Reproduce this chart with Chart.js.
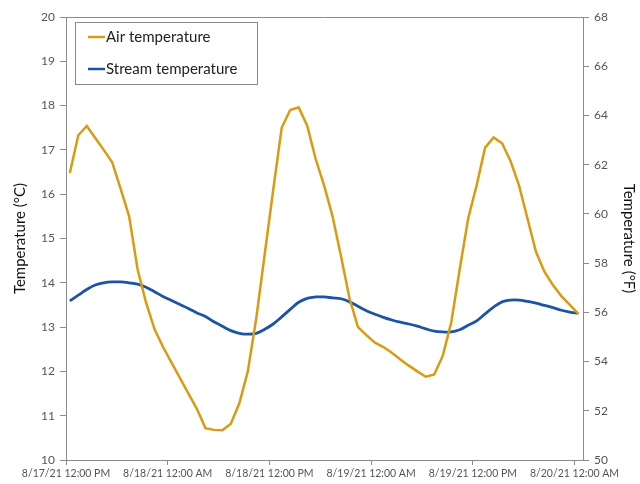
<!DOCTYPE html>
<html>
<head>
<meta charset="utf-8">
<script src="https://cdn.jsdelivr.net/npm/chart.js@4/dist/chart.umd.min.js"></script>
<style>
  html, body { margin: 0; padding: 0; background: #fff; }
  #wrap { width: 640px; height: 484px; }
</style>
</head>
<body>
<div id="wrap"><canvas id="myChart"></canvas></div>
<script>
// hours after 8/17/21 12:00 PM, one reading per hour
var firstReading = 0.45;

var airTemp = [16.48, 17.33, 17.54, 17.27, 17.0, 16.72, 16.12, 15.5, 14.3, 13.55,
  12.95, 12.55, 12.2, 11.85, 11.5, 11.15, 10.72, 10.68, 10.67, 10.82,
  11.28, 12.0, 13.2, 14.65, 16.1, 17.5, 17.9, 17.96, 17.55, 16.8,
  16.2, 15.5, 14.6, 13.65, 13.0, 12.82, 12.65, 12.55, 12.42, 12.27,
  12.13, 12.0, 11.88, 11.93, 12.35, 13.1, 14.3, 15.45, 16.2, 17.05,
  17.28, 17.15, 16.75, 16.2, 15.45, 14.7, 14.25, 13.95, 13.7, 13.5, 13.3];

var streamTemp = [13.59, 13.72, 13.85, 13.95, 14.0, 14.02, 14.02, 14.0, 13.97, 13.9,
  13.8, 13.69, 13.6, 13.51, 13.42, 13.32, 13.24, 13.12, 13.02, 12.92,
  12.86, 12.84, 12.86, 12.95, 13.07, 13.23, 13.4, 13.56, 13.65, 13.68,
  13.68, 13.66, 13.64, 13.57, 13.47, 13.37, 13.29, 13.22, 13.16, 13.11,
  13.07, 13.02, 12.96, 12.91, 12.89, 12.89, 12.94, 13.04, 13.14, 13.3,
  13.45, 13.57, 13.61, 13.61, 13.58, 13.54, 13.49, 13.44, 13.38, 13.34, 13.31];

var tickHours = [0, 12, 24, 36, 48, 60];
var tickLabels = ["8/17/21 12:00 PM", "8/18/21 12:00 AM", "8/18/21 12:00 PM",
  "8/19/21 12:00 AM", "8/19/21 12:00 PM", "8/20/21 12:00 AM"];

var seriesNames = ["Air temperature", "Stream temperature"];
var seriesColors = ["rgb(218,155,18)", "rgb(27,84,164)"];

function toPoints(arr){
  var pts = [];
  for (let i = 0; i < arr.length; i++) {
    pts.push({x: firstReading + i, y: arr[i]});
  }
  return pts;
}

var axisGrey = "#8c8c8c";
var tickFont = {family: "Lato", size: 12};
var tickColor = "#555";

// caja alrededor del area y leyenda con borde
var boxPlugin = {
  id: "boxPlugin",
  afterDatasetsDraw: function(chart){
    var ctx = chart.ctx;
    var a = chart.chartArea;
    ctx.save();
    ctx.strokeStyle = axisGrey;
    ctx.lineWidth = 1;
    ctx.beginPath();
    ctx.moveTo(a.left, a.top + 0.5);
    ctx.lineTo(a.right, a.top + 0.5);
    ctx.stroke();

    // legend, solo las dos series
    var lx = a.left + 9, ly = a.top + 5, lw = 182, lh = 62;
    ctx.fillStyle = "#fff";
    ctx.fillRect(lx, ly, lw, lh);
    ctx.strokeStyle = "#8a8a8a";
    ctx.strokeRect(lx + 0.5, ly + 0.5, lw, lh);
    ctx.font = "15px Lato";
    ctx.textBaseline = "middle";
    for (let i = 0; i < seriesNames.length; i++) {
      var ds = chart.data.datasets[i];
      var yy = ly + 15 + i * 32;
      ctx.strokeStyle = ds.borderColor;
      ctx.lineWidth = 2.5;
      ctx.beginPath();
      ctx.moveTo(lx + 13, yy);
      ctx.lineTo(lx + 30, yy);
      ctx.stroke();
      ctx.fillStyle = "#222";
      ctx.fillText(ds.label, lx + 31, yy);
    }
    ctx.restore();
  }
};

var ctx = document.getElementById("myChart").getContext("2d");
var chart = new Chart(ctx, {
  type: "line",
  data: {
    datasets: [
      {label: seriesNames[0], data: toPoints(airTemp), borderColor: seriesColors[0],
       borderWidth: 2.5, pointRadius: 0, tension: 0, yAxisID: "yC"},
      {label: seriesNames[1], data: toPoints(streamTemp), borderColor: seriesColors[1],
       borderWidth: 2.8, pointRadius: 0, tension: 0.4, yAxisID: "yC"},
      // escala en F, sin linea
      {label: "F", data: [], yAxisID: "yF", showLine: false}
    ]
  },
  options: {
    responsive: true,
    maintainAspectRatio: false,
    animation: false,
    layout: {padding: {top: 17, left: 0, right: 0, bottom: 0}},
    plugins: {legend: {display: false}, tooltip: {enabled: false}},
    scales: {
      x: {
        type: "linear", min: 0, max: 61,
        afterBuildTicks: function(scale){
          scale.ticks = tickHours.map(function(h){ return {value: h}; });
        },
        afterFit: function(scale){ scale.height = 24; },
        ticks: {
          autoSkip: false, maxRotation: 0, minRotation: 0, padding: 2,
          font: {family: "Lato", size: 10.5}, color: tickColor,
          callback: function(v){ return tickLabels[tickHours.indexOf(v)]; }
        },
        grid: {drawOnChartArea: false, color: axisGrey, tickLength: 5},
        border: {color: axisGrey}
      },
      yC: {
        position: "left", min: 10, max: 20,
        afterFit: function(scale){ scale.width = 66; },
        ticks: {stepSize: 1, font: tickFont, color: tickColor, padding: 5},
        grid: {drawOnChartArea: false, color: axisGrey, tickLength: 6},
        border: {color: axisGrey},
        title: {display: true, text: "Temperature (°C)", color: "#111",
                font: {family: "Lato", size: 15}, padding: {top: 11, bottom: 0}}
      },
      yF: {
        position: "right", min: 50, max: 68,
        afterFit: function(scale){ scale.width = 57; },
        ticks: {stepSize: 2, font: tickFont, color: tickColor, padding: 5},
        grid: {drawOnChartArea: false, color: axisGrey, tickLength: 6},
        border: {color: axisGrey},
        title: {display: true, text: "Temperature (°F)", color: "#111",
                font: {family: "Lato", size: 15}, padding: {top: 2, bottom: 0}}
      }
    }
  },
  plugins: [boxPlugin]
});
</script>
</body>
</html>
